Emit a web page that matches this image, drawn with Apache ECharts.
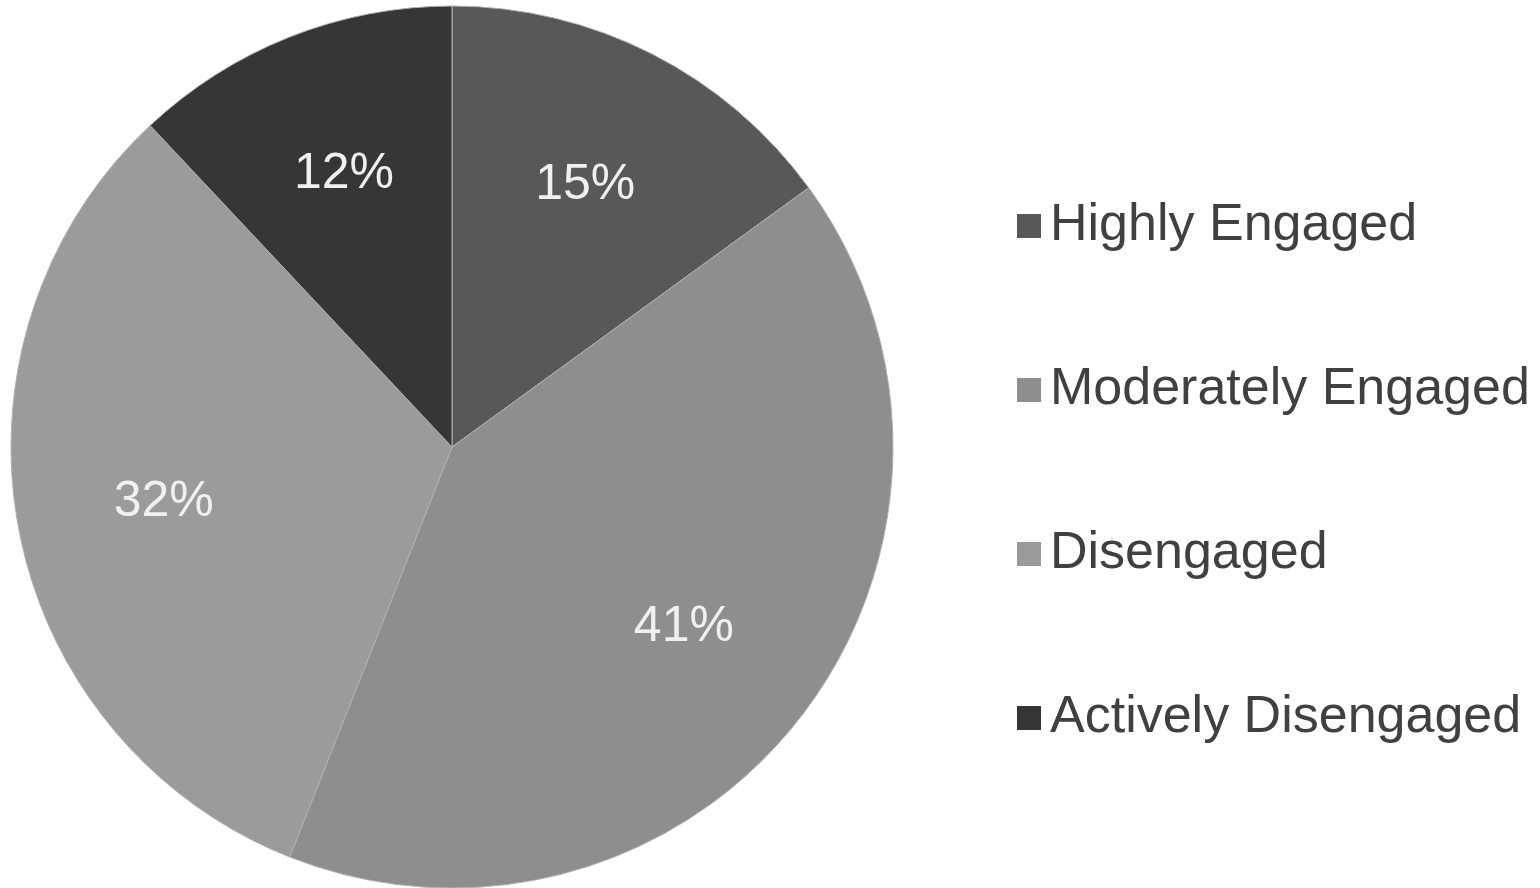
<!DOCTYPE html>
<html>
<head>
<meta charset="utf-8">
<script src="https://cdn.jsdelivr.net/npm/echarts@6/dist/echarts.min.js"></script>
<style>html,body{margin:0;padding:0;background:#fff;}#chart{width:1540px;height:888px;}</style>
</head>
<body>
<div id="chart"></div>
<script>
const categories = ['Highly Engaged', 'Moderately Engaged', 'Disengaged', 'Actively Disengaged'];
const values = [15, 41, 32, 12];
const colors = ['#585858', '#8e8e8e', '#9b9b9b', '#363636'];

const data = categories.map((c, i) => ({ name: c, value: values[i], itemStyle: { color: colors[i] } }));
const labelData = categories.map((c, i) => ({ name: c, value: values[i] }));

const chart = echarts.init(document.getElementById('chart'));
chart.setOption({
  backgroundColor: '#ffffff',
  animation: false,
  legend: {
    orient: 'vertical',
    left: 1012,
    top: 195,
    itemWidth: 24,
    itemHeight: 24,
    itemGap: 112,
    icon: 'rect',
    itemStyle: { borderWidth: 0 },
    data: categories,
    textStyle: { fontFamily: 'Liberation Sans, Arial, sans-serif', fontSize: 52, color: '#404040', lineHeight: 52, padding: [0, 0, 0, 4] }
  },
  series: [
    {
      type: 'pie',
      center: [452, 447],
      radius: [0, 441],
      startAngle: 90,
      clockwise: true,
      data: data,
      label: { show: false },
      labelLine: { show: false },
      itemStyle: { borderColor: '#b0b0b0', borderWidth: 1 },
      emphasis: { disabled: true }
    },
    {
      type: 'pie',
      center: [452, 447],
      radius: [140, 441],
      startAngle: 90,
      clockwise: true,
      silent: true,
      legendHoverLink: false,
      data: labelData,
      itemStyle: { color: 'rgba(0,0,0,0)', borderWidth: 0 },
      label: {
        show: true,
        position: 'inside',
        formatter: p => p.value + '%',
        fontFamily: 'Liberation Sans, Arial, sans-serif',
        fontSize: 50,
        color: '#f0f0f0'
      },
      labelLine: { show: false },
      emphasis: { disabled: true }
    }
  ]
});
</script>
</body>
</html>
